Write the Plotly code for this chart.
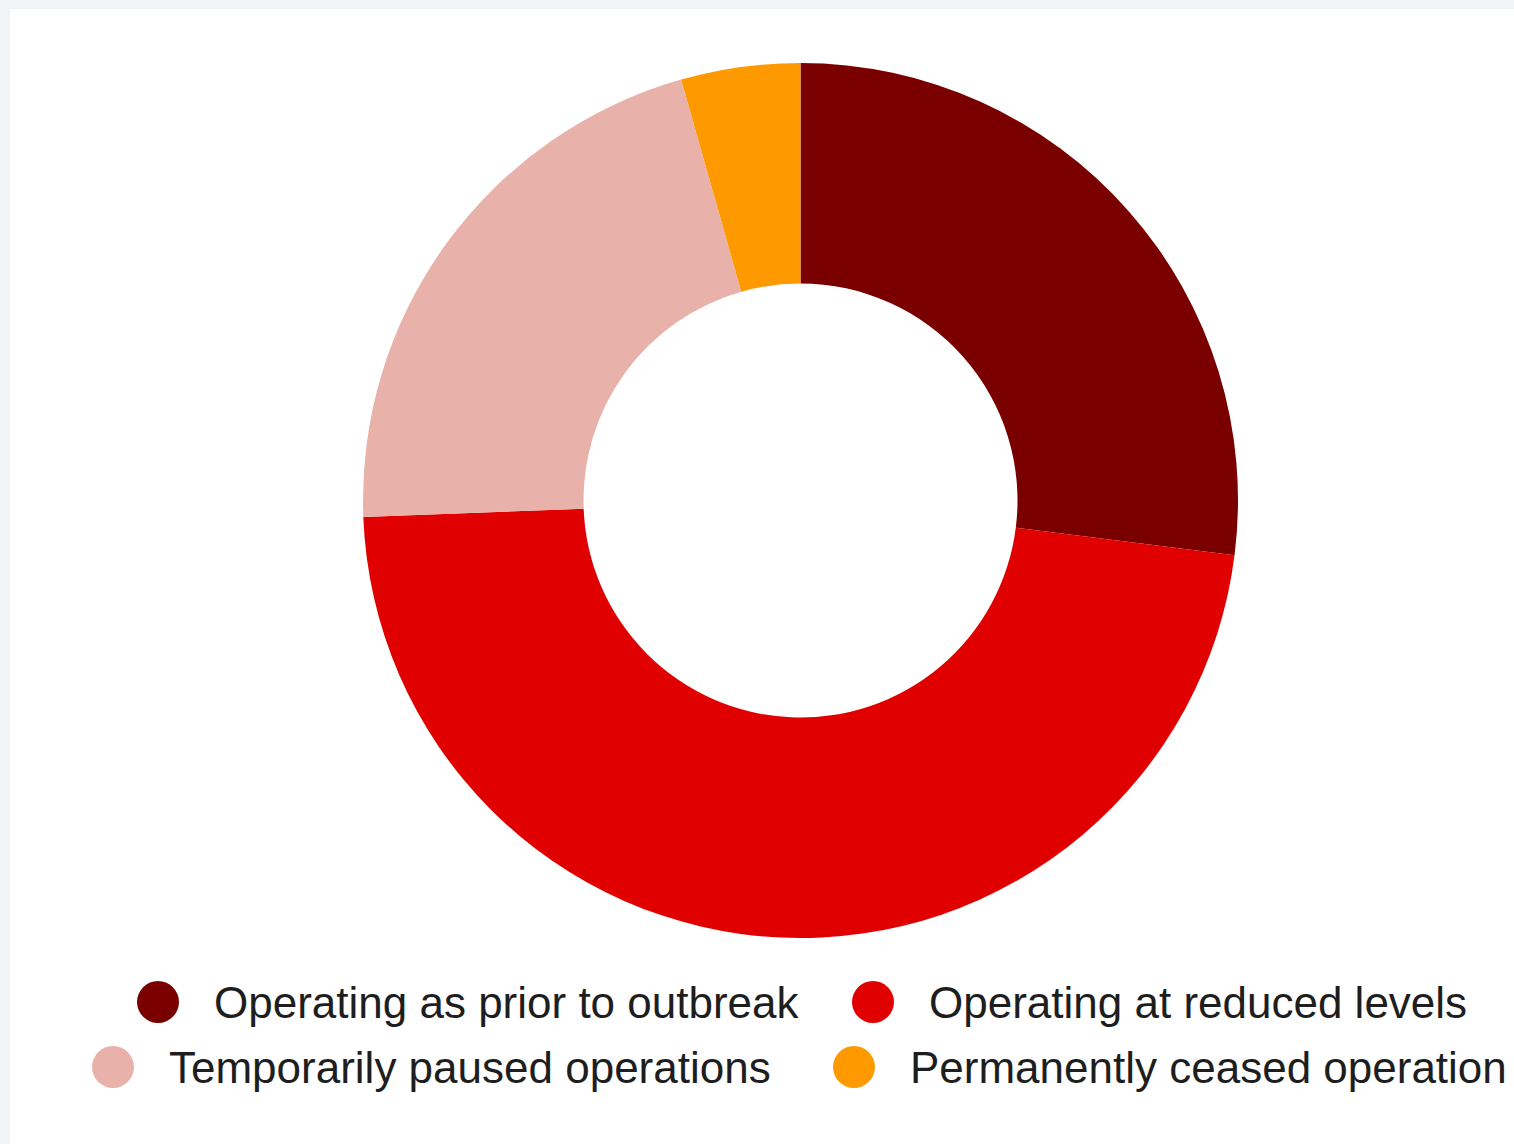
import plotly.graph_objects as go

# Survey response: operating status of businesses (share of respondents, %)
labels = [
    "Operating as prior to outbreak",
    "Operating at reduced levels",
    "Temporarily paused operations",
    "Permanently ceased operation",
]
values = [27.0, 47.4, 21.2, 4.4]
colors = ["#7a0000", "#e00000", "#e8b1aa", "#ff9900"]

W, H = 1514, 1144

# pie placement in pixels (centre and radius)
cx, cy, R = 800.5, 500.5, 437.5

fig = go.Figure()
fig.add_trace(go.Pie(
    labels=labels,
    values=values,
    marker=dict(colors=colors, line=dict(width=0)),
    hole=0.496,
    sort=False,
    direction="clockwise",
    rotation=0,
    textinfo="none",
    hoverinfo="label+percent",
    showlegend=False,
    domain=dict(x=[(cx - R) / W, (cx + R) / W],
                y=[1 - (cy + R) / H, 1 - (cy - R) / H]),
))

# custom legend: two centred rows with large round swatches
legend_rows = [[0, 1], [2, 3]]
row_y = [1002, 1067]
text_x = [[212, 927], [167, 908]]
swatch_gap = 54
swatch_r = 21

shapes = [
    # white card on light grey page
    dict(type="rect", xref="paper", yref="paper",
         x0=10 / W, x1=1, y0=0, y1=1 - 9 / H,
         fillcolor="white", line=dict(width=0), layer="below"),
]
annotations = []
for r, row in enumerate(legend_rows):
    y = row_y[r]
    for c, idx in enumerate(row):
        tx = text_x[r][c]
        mx = tx - swatch_gap
        shapes.append(dict(
            type="circle", xref="paper", yref="paper",
            x0=(mx - swatch_r) / W, x1=(mx + swatch_r) / W,
            y0=1 - (y + swatch_r) / H, y1=1 - (y - swatch_r) / H,
            fillcolor=colors[idx], line=dict(width=0), layer="above",
        ))
        annotations.append(dict(
            x=tx / W, y=1 - y / H, xref="paper", yref="paper",
            xanchor="left", yanchor="middle", showarrow=False,
            text=labels[idx],
            font=dict(family="Liberation Sans, Arial, sans-serif", size=44, color="#1e1e1e"),
        ))

fig.update_layout(
    width=W, height=H,
    margin=dict(l=0, r=0, t=0, b=0),
    paper_bgcolor="#f2f3f7",
    shapes=shapes,
    annotations=annotations,
    showlegend=False,
)

fig.write_html("out.html")
